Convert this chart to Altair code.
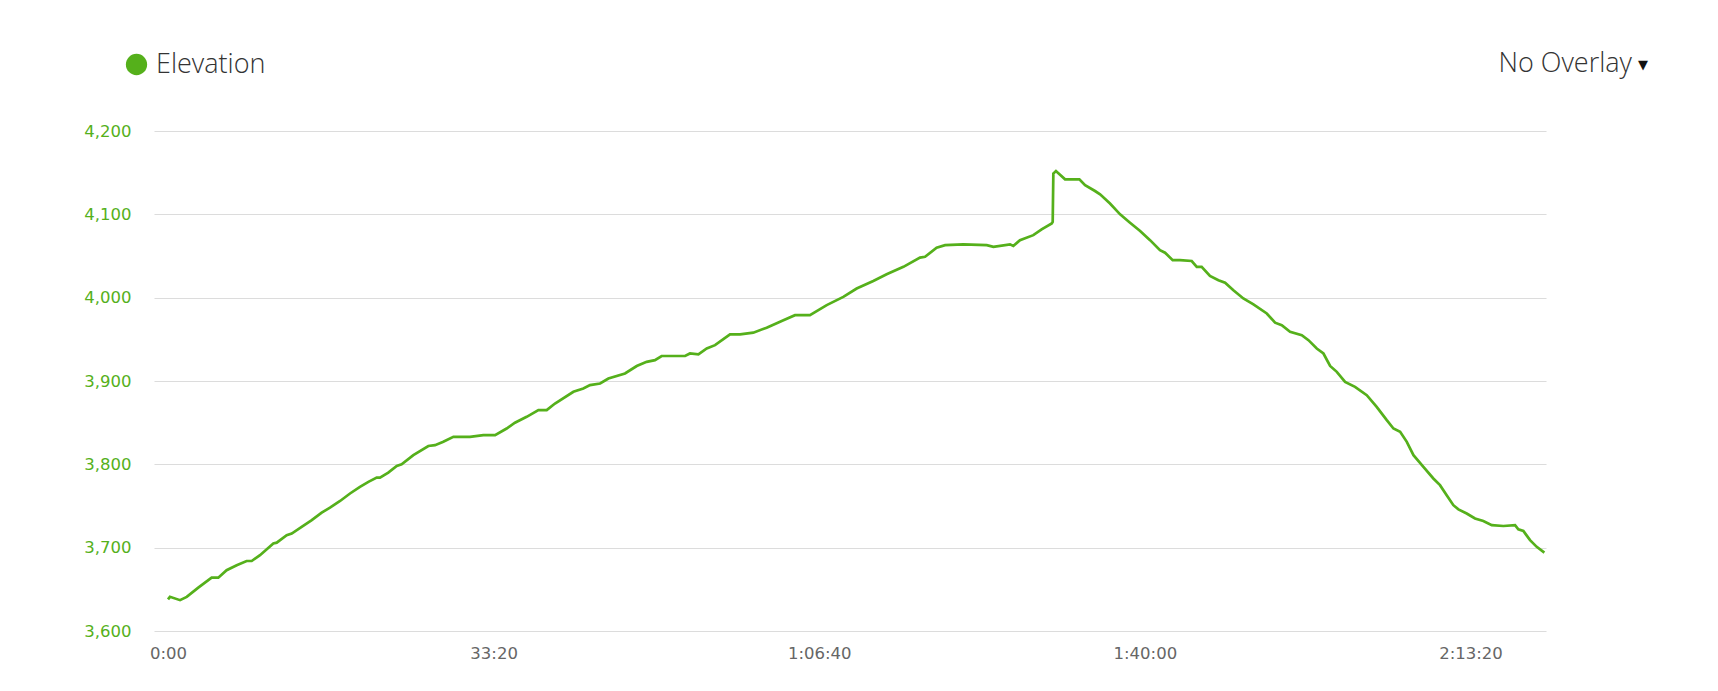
import altair as alt
import pandas as pd

# elapsed time (s) and elevation
times = [0, 12, 74, 115, 186, 268, 309, 360, 422, 483, 514, 565, 647, 668, 729, 760, 821, 883, 944, 995,
         1057, 1118, 1179, 1231, 1282, 1302, 1353, 1405, 1435, 1507, 1599, 1640, 1691, 1753, 1855, 1937,
         2009, 2080, 2131, 2203, 2275, 2326, 2377, 2490, 2551, 2592, 2654, 2705, 2807, 2879, 2940, 2991,
         3032, 3084, 3176, 3206, 3258, 3309, 3360, 3452, 3514, 3595, 3677, 3780, 3851, 3943, 4046, 4148,
         4230, 4332, 4414, 4517, 4619, 4650, 4721, 4773, 4885, 5029, 5070, 5172, 5192, 5233, 5315, 5366,
         5428, 5434, 5438, 5454, 5510, 5598, 5633, 5694, 5725, 5786, 5848, 5909, 5971, 6032, 6093, 6124,
         6171, 6216, 6288, 6319, 6349, 6400, 6452, 6493, 6544, 6605, 6667, 6749, 6800, 6841, 6892, 6964,
         7005, 7056, 7097, 7138, 7179, 7230, 7291, 7363, 7424, 7486, 7527, 7568, 7609, 7650, 7711, 7772,
         7813, 7854, 7895, 7926, 7977, 8028, 8079, 8131, 8202, 8274, 8294, 8325, 8366, 8407, 8454]
elevation = [3638, 3641, 3637, 3641, 3652, 3664, 3664, 3673, 3679, 3684, 3684, 3691, 3705, 3706, 3715, 3717,
             3725, 3733, 3742, 3748, 3756, 3765, 3773, 3779, 3784, 3784, 3790, 3798, 3800, 3811, 3822, 3823,
             3827, 3833, 3833, 3835, 3835, 3843, 3850, 3857, 3865, 3865, 3873, 3887, 3891, 3895, 3897, 3903,
             3909, 3918, 3923, 3925, 3930, 3930, 3930, 3933, 3932, 3939, 3943, 3956, 3956, 3958, 3964, 3973,
             3979, 3979, 3991, 4001, 4011, 4020, 4028, 4037, 4048, 4049, 4060, 4063, 4064, 4063, 4061, 4064,
             4062, 4069, 4075, 4082, 4089, 4091, 4149, 4152, 4142, 4142, 4135, 4128, 4124, 4113, 4100, 4090,
             4080, 4069, 4057, 4054, 4045, 4045, 4044, 4037, 4037, 4026, 4021, 4018, 4009, 3999, 3992, 3981,
             3970, 3967, 3959, 3955, 3949, 3939, 3933, 3918, 3911, 3899, 3893, 3883, 3869, 3853, 3843, 3839,
             3827, 3811, 3797, 3783, 3775, 3763, 3751, 3746, 3741, 3735, 3732, 3727, 3726, 3727, 3722, 3720,
             3709, 3701, 3694]
series_name = "Elevation"
x_ticks = [0, 2000, 4000, 6000, 8000]
y_ticks = [3600, 3700, 3800, 3900, 4000, 4100, 4200]
overlay_label = ["No Overlay"]
overlay_arrow = ["▼"]

GREEN = "#55B01B"
FONT = "Open Sans"
AXIS_FONT = "DejaVu Sans"

df = pd.DataFrame({"t": times, "elev": elevation, "series": series_name})

label_expr = (
    "floor(datum.value/3600) > 0 ? "
    "(floor(datum.value/3600) + ':' + (floor((datum.value%3600)/60) < 10 ? '0' : '') + floor((datum.value%3600)/60)"
    " + ':' + (datum.value%60 < 10 ? '0' : '') + (datum.value%60)) : "
    "(floor((datum.value%3600)/60) + ':' + (datum.value%60 < 10 ? '0' : '') + (datum.value%60))"
)

line = alt.Chart(df).mark_line(strokeWidth=2.7, interpolate="linear").encode(
    x=alt.X("t:Q", scale=alt.Scale(domain=[-86, 8464], nice=False, zero=False),
            axis=alt.Axis(values=x_ticks, labelExpr=label_expr, title=None, grid=False,
                          domain=False, ticks=False, labelPadding=14, labelFontSize=16.5,
                          labelColor="#666666", labelFont=AXIS_FONT)),
    y=alt.Y("elev:Q", scale=alt.Scale(domain=[3600, 4200], nice=False, zero=False),
            axis=alt.Axis(values=y_ticks, format=",.0f", title=None, grid=True, gridColor="#dcdcdc",
                          gridWidth=1.2, domain=False, ticks=False, labelPadding=23, labelFontSize=16.5,
                          labelColor=GREEN, labelFont=AXIS_FONT)),
    color=alt.Color("series:N", scale=alt.Scale(domain=[series_name], range=[GREEN]),
                    legend=alt.Legend(title=None, orient="none", legendX=-31, legendY=-80,
                                      symbolType="circle", symbolSize=452, symbolFillColor=GREEN,
                                      symbolStrokeWidth=0, symbolOpacity=1, labelFontSize=27,
                                      labelFont=FONT, labelFontWeight=300, labelColor="#333333",
                                      labelOffset=6, padding=0)),
)

overlay = alt.Chart(pd.DataFrame({"label": overlay_label})).mark_text(
    align="right", baseline="middle", fontSize=27, font=FONT, fontWeight=300, color="#333333"
).encode(x=alt.value(1478), y=alt.value(-67), text="label:N")

arrow = alt.Chart(pd.DataFrame({"label": overlay_arrow})).mark_text(
    align="center", baseline="middle", fontSize=13, font="DejaVu Sans", color="#111111"
).encode(x=alt.value(1489), y=alt.value(-66), text="label:N")

chart = alt.layer(line, overlay, arrow).properties(
    width=1392, height=500,
    background="white",
    autosize=alt.AutoSizeParams(type="none"),
    padding={"left": 146, "top": 123, "right": 150, "bottom": 50},
).configure_view(strokeWidth=0)

chart.save("out.html", embed_options={"renderer": "svg", "actions": False})
